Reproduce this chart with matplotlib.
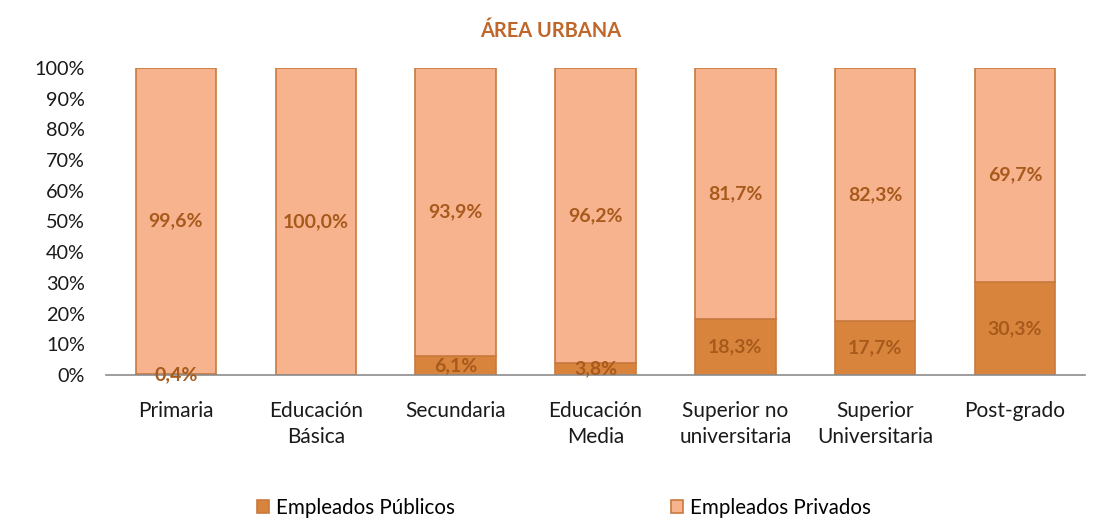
import matplotlib
matplotlib.use("Agg")
import matplotlib.pyplot as plt
import numpy as np

categories = ["Primaria", "Educación\nBásica", "Secundaria", "Educación\nMedia",
              "Superior no\nuniversitaria", "Superior\nUniversitaria", "Post-grado"]
publicos = [0.4, 0.0, 6.1, 3.8, 18.3, 17.7, 30.3]
privados = [99.6, 100.0, 93.9, 96.2, 81.7, 82.3, 69.7]
yticks = [0, 10, 20, 30, 40, 50, 60, 70, 80, 90, 100]
title = "ÁREA URBANA"
series_names = ["Empleados Públicos", "Empleados Privados"]

plt.rcParams['font.family'] = ['Lato', 'DejaVu Sans']

c_pub = "#D8843C"
c_priv = "#F7B38E"
c_edge = "#C87A3E"
c_lab = "#A85A1C"

fig = plt.figure(figsize=(11.01, 5.30), dpi=100)
fig.patch.set_facecolor("white")
ax = fig.add_axes([106/1101, 1-375/530, (1085-106)/1101, (375-68)/530])
ax.set_facecolor("none")

x = np.arange(len(categories))
w = 0.575
b1 = ax.bar(x, publicos, w, color=c_pub, edgecolor=c_edge, linewidth=1.2, label=series_names[0])
b2 = ax.bar(x, privados, w, bottom=publicos, color=c_priv, edgecolor=c_edge, linewidth=1.2, label=series_names[1])

for i in range(len(categories)):
    if publicos[i] > 0:
        ax.text(x[i], publicos[i]/2, f"{publicos[i]:.1f}%".replace(".", ","),
                ha="center", va="center", fontsize=14, fontweight="bold", color=c_lab)
    ax.text(x[i], publicos[i] + privados[i]/2, f"{privados[i]:.1f}%".replace(".", ","),
            ha="center", va="center", fontsize=14, fontweight="bold", color=c_lab)

ax.set_xlim(-0.5, len(categories)-0.5)
ax.set_ylim(0, 100)
ax.set_yticks(yticks)
ax.set_yticklabels([f"{t}%" for t in yticks], fontsize=14.3, color="#1a1a1a")
ax.set_xticks(x)
ax.set_xticklabels(categories, fontsize=15, color="#1a1a1a", linespacing=1.38)
ax.tick_params(axis="both", length=0)
ax.tick_params(axis="y", pad=15)
ax.tick_params(axis="x", pad=19)
for s in ["top", "right", "left"]:
    ax.spines[s].set_visible(False)
ax.spines["bottom"].set_color("#8c8c8c")
ax.spines["bottom"].set_linewidth(1.2)

fig.text(0.5, 1-31/530, title, ha="center", va="center", fontsize=14.4,
         fontweight="bold", color="#C0662A")

leg = fig.legend(handles=[b1, b2], labels=series_names, loc="center",
                 bbox_to_anchor=(564/1101, 1-508/530), ncol=2, frameon=False,
                 fontsize=14.8, handlelength=0.6, handleheight=0.6,
                 handletextpad=0.35, columnspacing=10.5)

fig.savefig("out.png", dpi=100)
